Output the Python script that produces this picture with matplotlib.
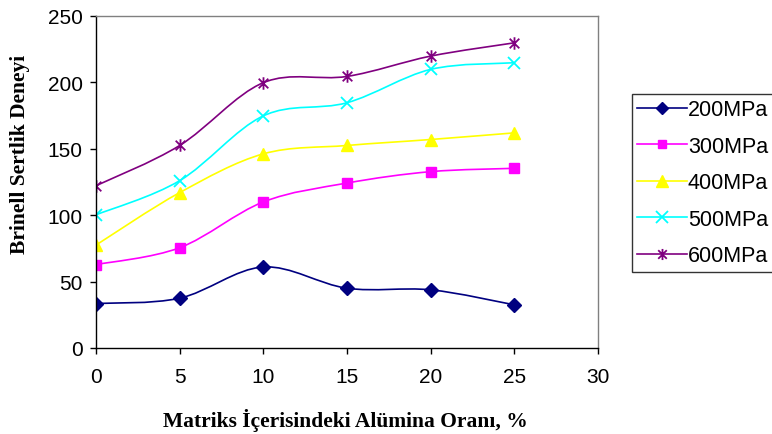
import numpy as np
import matplotlib
matplotlib.use("Agg")
import matplotlib.pyplot as plt
from matplotlib.path import Path
from matplotlib.patches import PathPatch
from matplotlib.lines import Line2D

# alumina ratio in matrix (%)
x = [0, 5, 10, 15, 20, 25]

names = ["200MPa", "300MPa", "400MPa", "500MPa", "600MPa"]
s200 = [33.5, 37.5, 61, 45, 43.8, 32.5]
s300 = [62.8, 75.5, 110, 124.2, 132.8, 135.3]
s400 = [77.5, 117, 146.2, 152.5, 157, 162]
s500 = [100.3, 126, 174.8, 184.7, 209.8, 214.8]
s600 = [122.2, 152.5, 199.8, 204.5, 219.8, 229.8]
series = [s200, s300, s400, s500, s600]

colors = ["#000080", "#FF00FF", "#FFFF00", "#00FFFF", "#800080"]

# asterisk marker like excel: x plus a vertical bar
star = Path([(-1, -1), (1, 1), (-1, 1), (1, -1), (0, -1.3), (0, 1.3)],
            [Path.MOVETO, Path.LINETO, Path.MOVETO, Path.LINETO, Path.MOVETO, Path.LINETO])
markers = ["D", "s", "^", "x", star]
msizes = [7, 7, 9, 9, 9]


def smooth_path(xs, ys):
    # catmull-rom style bezier segments, like excel "smoothed line"
    pts = np.column_stack([xs, ys]).astype(float)
    verts = [pts[0]]
    codes = [Path.MOVETO]
    n = len(pts)
    for i in range(n - 1):
        p0 = pts[i - 1] if i > 0 else pts[i]
        p1 = pts[i]
        p2 = pts[i + 1]
        p3 = pts[i + 2] if i + 2 < n else pts[i + 1]
        c1 = p1 + (p2 - p0) / 6.0
        c2 = p2 - (p3 - p1) / 6.0
        verts += [c1, c2, p2]
        codes += [Path.CURVE4] * 3
    return Path(verts, codes)


fig = plt.figure(figsize=(7.72, 4.35), dpi=100)
ax = fig.add_axes([96 / 772, 86 / 435, 502 / 772, 332 / 435])

handles = []
for name, ys, c, m, ms in zip(names, series, colors, markers, msizes):
    ax.add_patch(PathPatch(smooth_path(x, ys), facecolor="none", edgecolor=c, lw=1.2))
    mew = 1.3 if m in ("x",) or m is star else 1
    ax.plot(x, ys, linestyle="none", marker=m, color=c, markersize=ms, markeredgewidth=mew)
    handles.append(Line2D([], [], color=c, lw=1.2, marker=m, markersize=ms - 1, markeredgewidth=mew))

ax.set_xlim(0, 30)
ax.set_ylim(0, 250)
ax.set_xticks([0, 5, 10, 15, 20, 25, 30])
ax.set_yticks([0, 50, 100, 150, 200, 250])

ax.spines["left"].set_color("black")
ax.spines["bottom"].set_color("black")
ax.spines["top"].set_color("#808080")
ax.spines["right"].set_color("#808080")
for sp in ax.spines.values():
    sp.set_linewidth(1)
ax.tick_params(direction="out", length=4.5, width=1, labelsize=15, pad=5)
for lab in ax.get_xticklabels() + ax.get_yticklabels():
    lab.set_family("Liberation Sans")
ax.tick_params(axis="x", pad=9)

ax.set_xlabel("Matriks İçerisindeki Alümina Oranı, %", family="Liberation Serif",
              fontweight="bold", fontsize=15.5)
ax.set_ylabel("Brinell Sertlik Deneyi", family="Liberation Serif",
              fontweight="bold", fontsize=15.5)
ax.xaxis.set_label_coords(0.496, -0.214)
ax.yaxis.set_label_coords(-0.151, 0.587)
ax.xaxis.label.set_va("center")
ax.yaxis.label.set_va("center")

leg = fig.legend(handles, names, loc="upper left", bbox_to_anchor=(632 / 772, 1 - 95 / 435),
                 prop={"family": "Liberation Sans", "size": 15.5}, frameon=True, fancybox=False,
                 edgecolor="black", handlelength=2.3, handletextpad=0.05, labelspacing=0.72,
                 borderpad=0.25, borderaxespad=0)
leg.get_frame().set_linewidth(1)

fig.savefig("out.png", dpi=100)
